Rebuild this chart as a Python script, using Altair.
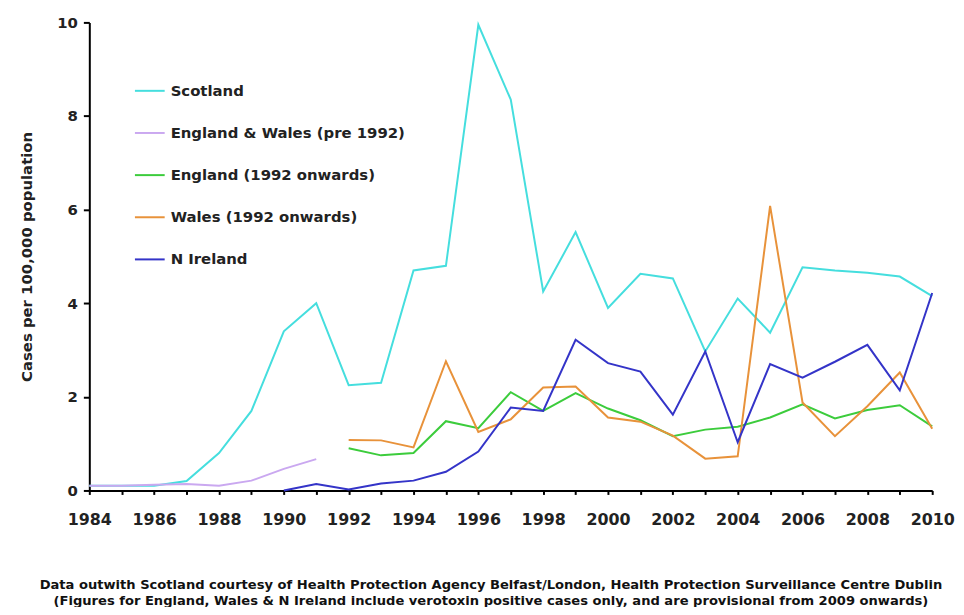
import altair as alt
import pandas as pd

years = list(range(1984, 2011))

scotland = [0.1, 0.1, 0.1, 0.2, 0.8, 1.7, 3.4, 4.0, 2.25, 2.3, 4.7, 4.8, 9.95, 8.35,
            4.25, 5.52, 3.9, 4.63, 4.53, 2.97, 4.1, 3.37, 4.77, 4.7, 4.65, 4.57, 4.15]
eng_wales_pre_years = list(range(1984, 1992))
eng_wales_pre = [0.1, 0.1, 0.12, 0.14, 0.1, 0.21, 0.46, 0.67]
post_years = list(range(1992, 2011))
england = [0.9, 0.75, 0.8, 1.48, 1.33, 2.1, 1.7, 2.08, 1.75, 1.5, 1.16, 1.3, 1.36,
           1.56, 1.84, 1.54, 1.72, 1.82, 1.37]
wales = [1.08, 1.07, 0.92, 2.76, 1.25, 1.52, 2.2, 2.22, 1.56, 1.47, 1.17, 0.68, 0.73,
         6.08, 1.88, 1.16, 1.8, 2.52, 1.32]
ni_years = list(range(1990, 2011))
n_ireland = [0.0, 0.14, 0.02, 0.15, 0.21, 0.4, 0.83, 1.77, 1.7, 3.22, 2.72, 2.54, 1.62,
             2.97, 1.03, 2.7, 2.41, 2.75, 3.11, 2.14, 4.22]

series_names = ["Scotland", "England & Wales (pre 1992)", "England (1992 onwards)",
                "Wales (1992 onwards)", "N Ireland"]
series_colors = ["#45dede", "#caa8f0", "#3ccc3c", "#e8923a", "#3434c8"]

rows = []
for name, xs, ys in [
    (series_names[0], years, scotland),
    (series_names[1], eng_wales_pre_years, eng_wales_pre),
    (series_names[2], post_years, england),
    (series_names[3], post_years, wales),
    (series_names[4], ni_years, n_ireland),
]:
    for x, y in zip(xs, ys):
        rows.append({"series": name, "year": x, "value": y})
df = pd.DataFrame(rows)

footer = [
    "Data outwith Scotland courtesy of Health Protection Agency Belfast/London, Health Protection Surveillance Centre Dublin",
    "(Figures for England, Wales & N Ireland include verotoxin positive cases only, and are provisional from 2009 onwards)",
]

FONT = "DejaVu Sans"

chart = alt.Chart(df).mark_line(strokeWidth=2).encode(
    x=alt.X("year:Q",
            scale=alt.Scale(domain=[1984, 2010], nice=False, zero=False),
            axis=alt.Axis(values=years, labelExpr="datum.value % 2 == 0 ? datum.value : ''",
                          title=None, grid=False, tickSize=4, labelFontSize=16,
                          labelFontWeight="bold", labelPadding=17, labelOverlap=False,
                          labelFlush=False, labelBound=False)),
    y=alt.Y("value:Q",
            scale=alt.Scale(domain=[0, 10], nice=False),
            axis=alt.Axis(values=[0, 2, 4, 6, 8, 10], title="Cases per 100,000 population",
                          grid=False, tickSize=6, labelFontSize=15, labelFontWeight="bold",
                          labelPadding=6, titleFontSize=15, titleFontWeight="bold",
                          titlePadding=22)),
    color=alt.Color("series:N",
                    scale=alt.Scale(domain=series_names, range=series_colors),
                    legend=alt.Legend(title=None, orient="none", legendX=45, legendY=53,
                                      symbolType="stroke", symbolSize=900,
                                      symbolStrokeWidth=2, labelFontSize=15,
                                      labelFontWeight="bold", labelOffset=5,
                                      rowPadding=18.5, labelLimit=500, labelColor="#222222")),
    detail="series:N",
).properties(
    width=850,
    height=472,
    autosize=alt.AutoSizeParams(type="none"),
    padding={"left": 82, "top": 12, "right": 24, "bottom": 115},
    title=alt.TitleParams(text=footer, orient="bottom", anchor="middle", fontSize=13.2,
                          fontWeight="bold", font=FONT, lineHeight=17, offset=52, dx=-20,
                          color="#111111"),
).configure_view(stroke=None).configure_axis(
    domainColor="black", domainWidth=2, tickColor="black", tickWidth=2,
    labelFont=FONT, titleFont=FONT, labelColor="#222222", titleColor="#222222",
).configure_legend(labelFont=FONT)

chart.save("out.html", embed_options={"renderer": "svg", "actions": False})
